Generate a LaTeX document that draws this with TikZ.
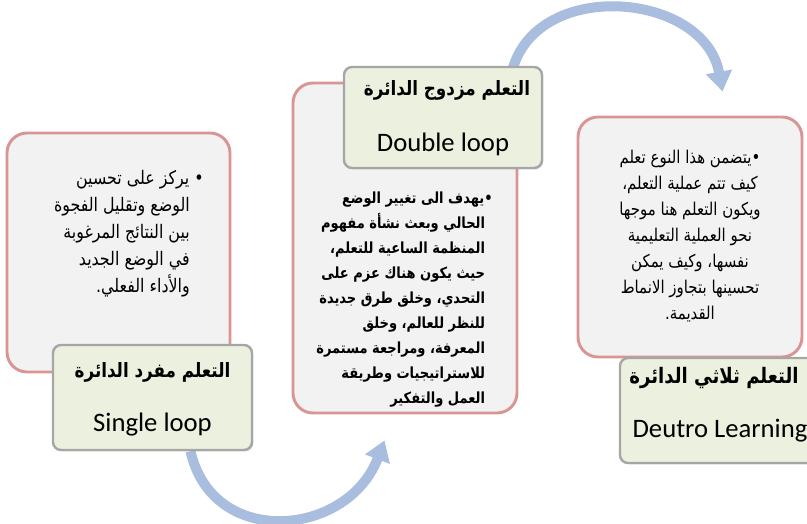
\documentclass[tikz,border=0pt]{standalone}
\usepackage{fontspec}
\newfontfamily\arabicfont[Script=Arabic,FakeStretch=0.85]{DejaVu Sans}
\newfontfamily\calibfont{Carlito}
\TeXXeTstate=1
\usetikzlibrary{fit,calc,shadows,arrows.meta,backgrounds}

\definecolor{boxpink}{RGB}{217,149,148}
\definecolor{boxgray}{RGB}{242,242,242}
\definecolor{titlegreen}{RGB}{235,241,222}
\definecolor{titleborder}{RGB}{166,166,166}
\definecolor{loopblue}{RGB}{169,190,222}

\tikzset{
  pinkbox/.style={draw=boxpink, fill=boxgray, line width=2.2pt, rounded corners=15pt, inner sep=0pt},
  titlebox/.style={draw=titleborder, fill=titlegreen, line width=1.8pt, rounded corners=6pt,
    inner sep=0pt, align=center, drop shadow={shadow xshift=1pt, shadow yshift=-1pt, opacity=0.3}},
  bodytext/.style={inner sep=0pt, align=right, anchor=north east},
  titlear/.style={font=\arabicfont\bfseries\fontsize{14.8}{18}\selectfont},
  titlela/.style={font=\calibfont\fontsize{20}{24}\selectfont},
  looparrow/.style={draw=loopblue, line width=7.5pt, -{Triangle[length=15pt,width=19pt]}},
}

\begin{document}
\begin{tikzpicture}[x=0.75pt,y=-0.75pt]
\useasboundingbox (0,0) rectangle (807,524);

% the three loops
\node[pinkbox, fit={(7,133) (230,372)}] (box1) {};
\node[pinkbox, fit={(293,83) (517,413)}] (box2) {};
\node[pinkbox, fit={(578,117) (802,357)}] (box3) {};

\node[bodytext, font=\arabicfont\fontsize{14}{20.3}\selectfont] (text1) at (204,170) {%
\beginR• يركز على تحسين\endR\\
\beginR\hspace*{0.75em}الوضع وتقليل الفجوة\endR\\
\beginR\hspace*{0.75em}بين النتائج المرغوبة\endR\\
\beginR\hspace*{0.75em}في الوضع الجديد\endR\\
\beginR\hspace*{0.75em}والأداء الفعلي.\endR};

\node[bodytext, font=\arabicfont\bfseries\fontsize{11.5}{18.7}\selectfont] (text2) at (493,192) {%
\beginR•يهدف الى تغيير الوضع\endR\\
\beginR\hspace*{0.5em}الحالي وبعث نشأة مفهوم\endR\\
\beginR\hspace*{0.5em}المنظمة الساعية للتعلم،\endR\\
\beginR\hspace*{0.5em}حيث يكون هناك عزم على\endR\\
\beginR\hspace*{0.5em}التحدي، وخلق طرق جديدة\endR\\
\beginR\hspace*{0.5em}للنظر للعالم، وخلق\endR\\
\beginR\hspace*{0.5em}المعرفة، ومراجعة مستمرة\endR\\
\beginR\hspace*{0.5em}للاستراتيجيات وطريقة\endR\\
\beginR\hspace*{0.5em}العمل والتفكير\endR};

\node[bodytext, align=center, anchor=north, font=\arabicfont\fontsize{13.2}{19.5}\selectfont] (text3) at (690,150) {%
\beginR•يتضمن هذا النوع تعلم\endR\\
\beginR كيف تتم عملية التعلم،\endR\\
\beginR ويكون التعلم هنا موجها\endR\\
\beginR نحو العملية التعليمية\endR\\
\beginR نفسها، وكيف يمكن\endR\\
\beginR تحسينها بتجاوز الانماط\endR\\
\beginR القديمة.\endR};

% titles
\node[titlebox, fit={(53,345) (252,450)}] (title1) {};
\node[titlear] at ($(title1.center)+(0,-25)$) {\beginR التعلم مفرد الدائرة\endR};
\node[titlela] at ($(title1.center)+(0,27)$) {Single loop};

\node[titlebox, fit={(344,67) (542,168)}] (title2) {};
\node[titlear] at ($(title2.center)+(4,-27)$) {\beginR التعلم مزدوج الدائرة\endR};
\node[titlela] at ($(title2.center)+(0,27)$) {Double loop};

\node[titlebox, fit={(620,358) (830,463)}] (title3) {};
\node[titlear, font=\arabicfont\bfseries\fontsize{16}{18}\selectfont] at (714,378) {\beginR التعلم ثلاثي الدائرة\endR};
\node[titlela] at (720,431) {Deutro Learning};

% arrows between the loops
\begin{scope}[on background layer]
\draw[looparrow] ($(title1.south)+(38,0)$) .. controls +(22,98) and +(-37,97) .. ($(box2.south west)+(93,26)$);
\draw[looparrow] ($(title2.north)+(70,2)$) .. controls +(27,-90) and +(-18,-99) .. ($(box3.north west)+(146,-24)$);
\end{scope}
\end{tikzpicture}
\end{document}
